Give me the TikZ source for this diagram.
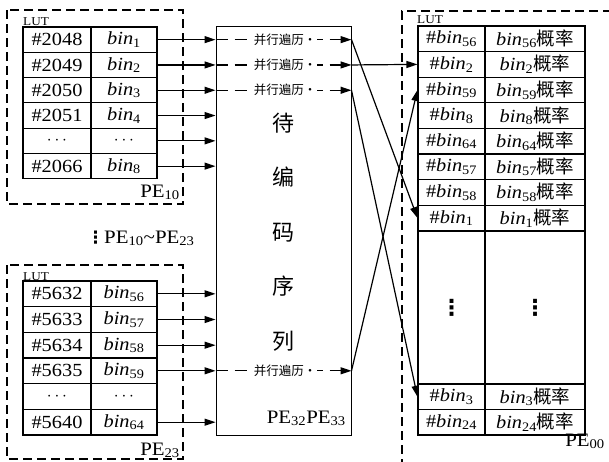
\documentclass[tikz,border=0pt]{standalone}
\usepackage{fontspec}
\setmainfont{Liberation Serif}[FakeStretch=1.1]
\newfontfamily\cjk{Noto Sans CJK SC}
\newfontfamily\dv{DejaVu Sans}
\usetikzlibrary{arrows.meta}
\newcommand\bn[1]{\textit{bin}\textsubscript{#1}}
\newcommand\gl{{\cjk 概率}}
\begin{document}
\begin{tikzpicture}[x=1pt,y=-1pt,
  cell/.style={draw, line width=1.1pt, inner sep=0pt, minimum height=25.3pt, font=\fontsize{18.5}{20}\selectfont},
  ca/.style={cell, minimum width=68pt},
  cb/.style={cell, minimum width=66pt},
  cc/.style={cell, minimum width=67pt, minimum height=25.6pt},
  cd/.style={cell, minimum width=100pt, minimum height=25.6pt},
  dbox/.style={draw, dash pattern=on 9pt off 5pt, line width=1.4pt},
  arr/.style={line width=1.2pt, -{Triangle[length=11pt,width=7pt]}},
  dl/.style={line width=1.2pt, dash pattern=on 12pt off 7pt, -{Triangle[length=11pt,width=7pt]}},
  pl/.style={fill=white, inner sep=1pt, font=\cjk\fontsize{12.5}{14}\selectfont},
  lut/.style={inner sep=0pt, font=\fontsize{12}{12}\selectfont, anchor=base west},
  pe/.style={inner sep=0pt, font=\fontsize{19}{20}\selectfont, anchor=base east},
  vdt/.style={font=\dv\bfseries\fontsize{22}{22}\selectfont}]
\useasboundingbox (0,0) rectangle (609,461);

% dashed boxes
\draw[dbox] (7,10) rectangle (183,204);
\draw[dbox] (7,265) rectangle (183,459);
\draw[dbox] (612,11) -- (402,11) -- (402,464);

% LUT labels
\node[lut] (lutA) at (23,25) {LUT};
\node[lut] (lutB) at (23,280) {LUT};
\node[lut] (lutC) at (417,23) {LUT};

% table A
\node[ca] (al1) at (57,39.65) {\#2048};  \node[cb] (ar1) at (124,39.65) {\bn{1}};
\node[ca] (al2) at (57,64.95) {\#2049};  \node[cb] (ar2) at (124,64.95) {\bn{2}};
\node[ca] (al3) at (57,90.25) {\#2050};  \node[cb] (ar3) at (124,90.25) {\bn{3}};
\node[ca] (al4) at (57,115.55) {\#2051}; \node[cb] (ar4) at (124,115.55) {\bn{4}};
\node[ca] (al5) at (57,140.85) {$\cdots$}; \node[cb] (ar5) at (124,140.85) {$\cdots$};
\node[ca] (al6) at (57,166.15) {\#2066}; \node[cb] (ar6) at (124,166.15) {\bn{8}};
\node[pe] (peA) at (180,197) {PE\textsubscript{10}};

% middle text
\node[inner sep=0pt, anchor=base west, font=\fontsize{19}{20}\selectfont] (mid) at (87,243) {{\dv\bfseries\fontsize{17}{17}\selectfont ⋮}PE\textsubscript{10}\textasciitilde PE\textsubscript{23}};

% table B
\node[ca, minimum height=25.67pt] (bl1) at (57,293.8) {\#5632}; \node[cb, minimum height=25.67pt] (br1) at (124,293.8) {\bn{56}};
\node[ca, minimum height=25.67pt] (bl2) at (57,319.5) {\#5633}; \node[cb, minimum height=25.67pt] (br2) at (124,319.5) {\bn{57}};
\node[ca, minimum height=25.67pt] (bl3) at (57,345.2) {\#5634}; \node[cb, minimum height=25.67pt] (br3) at (124,345.2) {\bn{58}};
\node[ca, minimum height=25.67pt] (bl4) at (57,370.8) {\#5635}; \node[cb, minimum height=25.67pt] (br4) at (124,370.8) {\bn{59}};
\node[ca, minimum height=25.67pt] (bl5) at (57,396.5) {$\cdots$}; \node[cb, minimum height=25.67pt] (br5) at (124,396.5) {$\cdots$};
\node[ca, minimum height=25.67pt] (bl6) at (57,422.2) {\#5640}; \node[cb, minimum height=25.67pt] (br6) at (124,422.2) {\bn{64}};
\node[pe] (peB) at (180,455) {PE\textsubscript{23}};

% middle box
\node[draw, line width=1pt, minimum width=135pt, minimum height=409pt, inner sep=0pt] (seq) at (283.5,230.5) {};
\node[align=center, font=\cjk\fontsize{22}{54.5}\selectfont, inner sep=0pt] (vt) at (283.5,232) {待\\编\\码\\序\\列};
\node[pe] (peM) at (346,423) {PE\textsubscript{32}PE\textsubscript{33}};

% table C
\node[cc] (cl1) at (451.5,38.8) {\#\bn{56}};  \node[cd] (cr1) at (535,38.8) {\bn{56}\gl};
\node[cc] (cl2) at (451.5,64.4) {\#\bn{2}};   \node[cd] (cr2) at (535,64.4) {\bn{2}\gl};
\node[cc] (cl3) at (451.5,90) {\#\bn{59}};    \node[cd] (cr3) at (535,90) {\bn{59}\gl};
\node[cc] (cl4) at (451.5,115.6) {\#\bn{8}};  \node[cd] (cr4) at (535,115.6) {\bn{8}\gl};
\node[cc] (cl5) at (451.5,141.2) {\#\bn{64}}; \node[cd] (cr5) at (535,141.2) {\bn{64}\gl};
\node[cc] (cl6) at (451.5,166.8) {\#\bn{57}}; \node[cd] (cr6) at (535,166.8) {\bn{57}\gl};
\node[cc] (cl7) at (451.5,192.4) {\#\bn{58}}; \node[cd] (cr7) at (535,192.4) {\bn{58}\gl};
\node[cc] (cl8) at (451.5,218) {\#\bn{1}};    \node[cd] (cr8) at (535,218) {\bn{1}\gl};
\node[cc, minimum height=153pt] (cl9) at (451.5,307.5) {};
\node[cd, minimum height=153pt] (cr9) at (535,307.5) {};
\node[vdt, inner sep=0pt] (d1) at (cl9) {⋮};
\node[vdt, inner sep=0pt] (d2) at (cr9) {⋮};
\node[cc, minimum height=25.5pt] (cl10) at (451.5,396.75) {\#\bn{3}};  \node[cd, minimum height=25.5pt] (cr10) at (535,396.75) {\bn{3}\gl};
\node[cc, minimum height=25.5pt] (cl11) at (451.5,422.25) {\#\bn{24}}; \node[cd, minimum height=25.5pt] (cr11) at (535,422.25) {\bn{24}\gl};
\node[pe] (peC) at (605,446) {PE\textsubscript{00}};

% arrows from A
\foreach \i in {1,...,6} {\draw[arr] (ar\i.east) -- (seq.west |- ar\i.east);}
% arrows from B
\foreach \i in {1,2,3,4,6} {\draw[arr] (br\i.east) -- (seq.west |- br\i.east);}

% dashed traversal lines
\draw[dl] (seq.west |- ar1.east) -- (seq.east |- ar1.east);
\draw[dl] (seq.west |- ar2.east) -- (seq.east |- ar2.east);
\draw[dl] (seq.west |- ar3.east) -- (seq.east |- ar3.east);
\draw[dl] (seq.west |- br4.east) -- (seq.east |- br4.east);
\node[pl] (p1) at (285,39.65) {并行遍历·};
\node[pl] (p2) at (285,64.95) {并行遍历·};
\node[pl] (p3) at (285,90.25) {并行遍历·};
\node[pl] (p4) at (285,370.8) {并行遍历·};

% crossing arrows
\draw[arr] (seq.east |- ar1.east) -- (cl8.west);
\draw[arr] (seq.east |- ar2.east) -- (cl2.west);
\draw[arr] (seq.east |- ar3.east) -- (cl10.west);
\draw[arr] (seq.east |- br4.east) -- (cl3.west);
\end{tikzpicture}
\end{document}
